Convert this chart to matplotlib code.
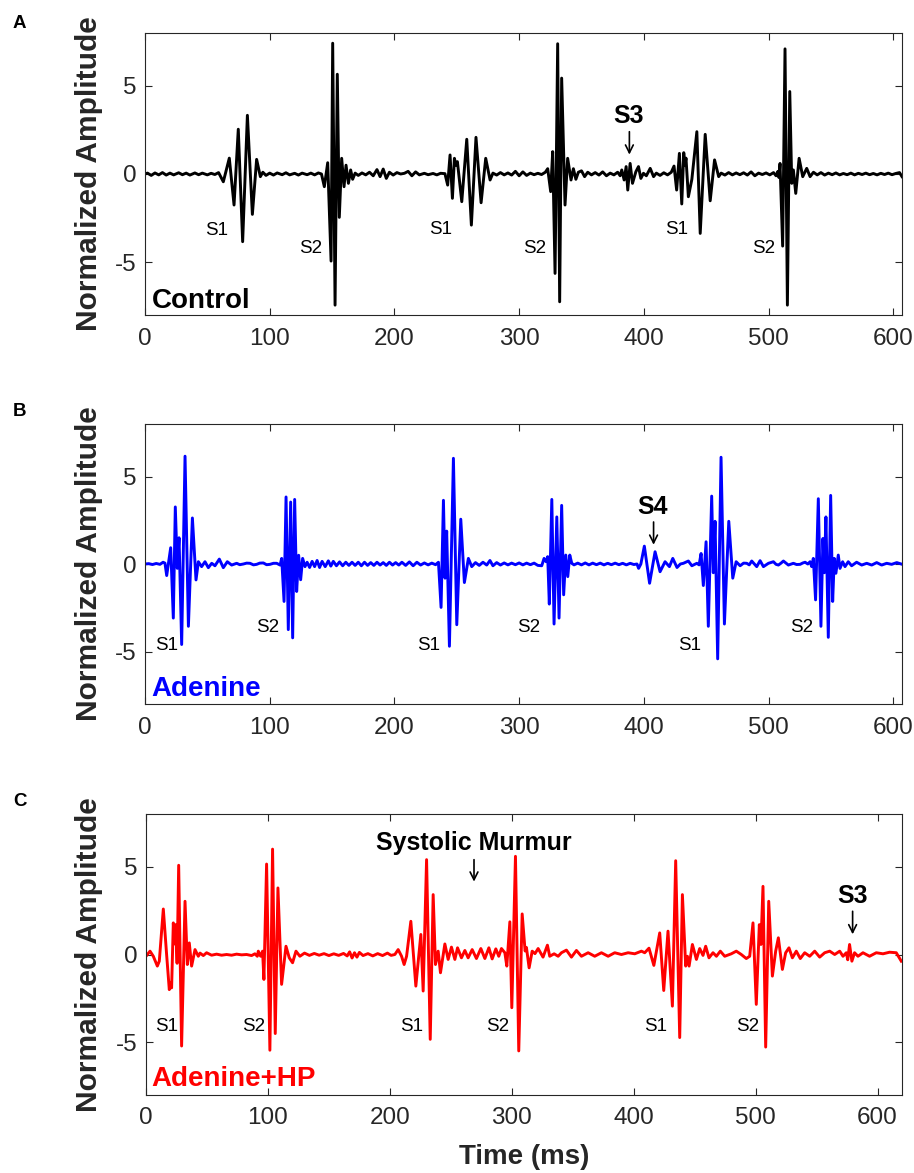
import matplotlib
matplotlib.use("Agg")
import matplotlib.pyplot as plt

plt.rcParams['font.family'] = ['Liberation Sans', 'DejaVu Sans']
plt.rcParams['axes.unicode_minus'] = False

# ---- phonocardiogram traces: (time in ms, normalized amplitude) ----
control_trace = [
    (0, 0.0), (2, 0.05), (5, -0.08), (8, 0.06), (11, -0.05), (14, 0.08), (17, -0.06), (20, 0.05),
    (23, -0.05), (27, 0.07), (30, -0.04), (33, 0.05), (36, -0.06), (40, 0.06), (43, -0.04), (46, 0.05),
    (50, -0.05), (53, 0.04), (56, -0.03), (59, 0.08), (61, -0.2),
    (62.8, -0.44), (67.6, 0.9), (71.4, -1.76), (74.8, 2.54), (78.3, -3.84), (82.1, 3.33), (86.1, -2.29),
    (89.5, 0.83), (92.5, -0.15), (94.5, 0.1), (97, -0.08),
    (100, 0.05), (103, -0.06), (106, 0.06), (110, -0.04), (113, 0.07), (116, -0.05), (120, 0.04),
    (123, -0.06), (126, 0.05), (130, -0.04), (133, 0.05), (136, -0.05), (139, 0.06), (141.5, 0.0),
    (143.8, -0.72), (146.5, 0.64), (149.2, -4.94), (150.5, 7.42), (152.4, -7.44), (154.2, 5.66),
    (155.8, -2.46), (157.7, 0.89), (159.6, -0.72), (161.2, 0.5), (163.1, -0.53), (164.9, 0.23),
    (166.5, -0.3), (168.5, 0.05),
    (171, -0.08), (174, 0.06), (177, -0.05), (180, 0.1), (183, -0.1), (186, 0.25), (188.5, -0.15),
    (191, 0.28), (193.5, -0.25), (196, 0.1), (199, -0.06), (202, 0.08), (205, 0.0), (208, 0.04),
    (211, 0.15), (214, -0.1), (217, 0.12), (220, -0.05), (224, 0.04), (227, -0.04), (231, 0.03),
    (234, -0.05), (237, 0.04), (240.5, 0.02),
    (242.7, -0.63), (244.6, 1.08), (246.5, -1.38), (248.1, 0.89), (249.3, 0.5), (250.5, 0.7),
    (254.0, -1.57), (258.0, 1.97), (261.7, -2.9), (265.4, 2.08), (269.5, -1.63), (273.2, 0.89),
    (276.7, -0.34), (279, 0.05),
    (282, -0.06), (285, 0.08), (288, -0.05), (291, 0.06), (294, -0.06), (297, 0.15), (300, -0.1),
    (303, 0.12), (306, -0.08), (309, 0.05), (312, -0.04), (315, 0.04), (318, -0.03), (321, 0.1),
    (322.9, 0.3), (325.3, -1.0), (326.9, 1.27), (328.8, -5.64), (330.9, 7.39), (332.5, -7.25),
    (334.1, 5.44), (336.8, -1.76), (338.9, 0.89), (341.6, -0.34), (343.5, 0.3), (345.5, -0.3),
    (347.5, 0.1),
    (350, 0.18), (352.5, -0.15), (355, 0.1), (358, -0.05), (361, 0.08), (364, -0.06), (367, 0.12),
    (370, -0.1), (373, 0.05), (376, -0.05), (379, 0.1), (381, -0.1),
    (382.3, 0.23), (384.2, -0.34), (385.8, 0.42), (387.1, -0.91), (389.0, 0.6), (390.9, -0.53),
    (393.6, 0.13), (395.7, 0.42), (397.6, -0.25), (399.7, 0.04), (402, -0.1), (405.1, 0.32),
    (407.8, -0.15), (410, 0.05),
    (413, -0.08), (416, 0.07), (419, -0.05), (422, 0.1),
    (424.2, 0.45), (426.3, -0.91), (428.5, 1.17), (430.4, -1.7), (432.0, 1.21), (432.9, 0.5),
    (433.8, 0.9), (435.7, -1.29), (438.5, -0.3), (442.5, 2.4), (445.2, -3.37), (449.2, 2.25),
    (453.2, -1.52), (456.7, 0.8), (460.0, -0.15), (462, 0.05),
    (465, -0.06), (468, 0.08), (471, -0.05), (474, 0.06), (477, -0.04), (480, 0.07), (483, -0.06),
    (486, 0.12), (489, -0.1), (492, 0.05), (495, -0.03), (498, 0.06), (501, -0.05), (504, 0.08),
    (506, -0.1),
    (507.5, 0.15), (508.3, -0.2), (509.2, 0.6), (511.3, -4.09), (513.2, 7.1), (515.1, -7.44),
    (517.0, 4.68), (518.6, -0.53), (519.9, 0.23), (521.8, -1.1), (524.5, 0.89), (527.4, -0.15),
    (530.6, 0.32), (533.3, -0.15), (536, 0.1),
    (539, -0.05), (542, 0.08), (545, -0.06), (548, 0.05), (551, -0.04), (554, 0.06), (557, -0.05),
    (560, 0.03), (563, -0.04), (566, 0.05), (569, -0.05), (572, 0.04), (575, -0.03), (578, 0.05),
    (581, -0.04), (584, 0.03), (587, -0.05), (590, 0.04), (593, -0.03), (596, 0.05), (599, -0.04),
    (602, 0.03), (605, 0.08), (607, -0.15),
]

adenine_trace = [
    (0, 0.0), (3, 0.02), (6, -0.03), (9, 0.03), (12, -0.02), (14.5, 0.1), (16, 0.05),
    (17.4, -0.66), (20.6, 0.93), (22.7, -3.09), (24.3, 3.26), (25.9, -0.25), (27.3, 1.5),
    (29.4, -4.6), (32.1, 6.16), (34.8, -3.56), (38.0, 2.63), (40.9, -0.91),
    (42.8, 0.13), (45.4, -0.15), (48.1, 0.13), (50.8, -0.21), (53.5, 0.04), (56.1, -0.1),
    (59.6, 0.28), (62.8, -0.21), (66.0, 0.13), (69.5, -0.06), (73.5, 0.04), (76, -0.04),
    (78.9, 0.0), (81.5, 0.05), (84.2, 0.04), (87, -0.05), (89.5, -0.02), (92, 0.05), (94.9, 0.06),
    (97.5, -0.04), (100.2, -0.02), (103, 0.04), (105.6, 0.04), (108.3, -0.06),
    (109.6, 0.32), (111.5, -2.14), (113.1, 3.83), (114.9, -3.75), (116.8, 3.54), (118.4, -4.22),
    (120.0, 3.69), (121.6, -1.57), (123.2, 0.5), (124.8, -0.9), (126.4, 0.32), (128.3, -0.15),
    (130, 0.1),
    (132, -0.2), (134, 0.15), (136, -0.15), (138, 0.2), (140, -0.2), (142, 0.15), (144.5, -0.15),
    (147, 0.18), (149, -0.12), (151, 0.15), (153.5, -0.1), (156, 0.12), (158.5, -0.1), (161, 0.1),
    (163.5, -0.08), (166, 0.1), (168.5, -0.08), (171, 0.1), (173.5, -0.1), (176, 0.1),
    (178.5, -0.08), (181, 0.08), (183.5, -0.08), (186, 0.1), (188.5, -0.06), (191, 0.08),
    (193.5, -0.08), (196, 0.1), (198.5, -0.06), (201, 0.08), (203.5, -0.06), (206, 0.1),
    (209, -0.08), (212, 0.12), (215, -0.1), (218, 0.1), (221, -0.06), (224, 0.06), (227, -0.05),
    (230, 0.05), (233, -0.04), (235.3, 0.1),
    (237.4, -2.48), (239.3, 3.64), (240.6, -0.81), (241.9, 1.88), (244.1, -4.7), (247.3, 6.04),
    (250.0, -3.47), (253.2, 2.56), (256.1, -1.06), (259.3, 0.32), (262.0, -0.15),
    (265, 0.08), (268, -0.08), (271, 0.1), (274, -0.06), (276.6, 0.2), (279, -0.1), (282, 0.08),
    (285, -0.06), (288, 0.06), (291, -0.05), (294, 0.05), (297, -0.04), (300, 0.06), (303, -0.05),
    (306, 0.05), (309, -0.04), (312, 0.05), (315, -0.08), (318.1, -0.1),
    (320.0, 0.32), (321.6, 0.13), (322.9, 0.42), (324.2, -2.29), (326.2, 3.69), (328.0, -3.43),
    (330.2, 2.69), (332.0, -3.09), (334.1, 3.35), (335.7, -1.76), (337.4, 0.51), (339.0, -0.72),
    (340.6, 0.51), (342.2, 0.04), (344, -0.05),
    (347, 0.05), (350, -0.05), (353, 0.06), (356, -0.05), (359, 0.05), (362, -0.04), (365, 0.05),
    (368, -0.05), (371, 0.04), (374, -0.04), (377, 0.05), (380, -0.04), (383, 0.04), (386, -0.05),
    (389, 0.04), (392, -0.03), (394.5, 0.0),
    (395.8, -0.25), (397.6, 0.0), (400.4, 1.02), (404.6, -1.1), (409.0, 0.7), (413.0, -0.44),
    (417.0, 0.13), (420.5, -0.15), (423.2, 0.32), (426.6, -0.2), (429.3, 0.0), (431.7, 0.04),
    (435.7, 0.17), (438.5, -0.1), (442.5, 0.04), (444.3, -0.05),
    (445.9, 0.6), (447.7, -1.23), (449.9, 1.27), (451.7, -3.56), (454.4, 3.88), (455.7, -0.5),
    (457.1, 2.44), (459.2, -5.42), (461.9, 6.1), (464.6, -3.43), (468.1, 2.44), (471.3, -0.81),
    (474.0, 0.13), (477.2, -0.1), (480, 0.05), (482.5, 0.04), (484.5, -0.05), (486.5, 0.17),
    (490.5, -0.15), (493.2, 0.19), (495.9, -0.15), (499.9, 0.04), (503.9, 0.13), (506, -0.02),
    (507.9, -0.06), (510, 0.05), (511.9, 0.17), (515.9, -0.06), (519.9, 0.04), (522.5, -0.03),
    (525.3, -0.02), (527.5, 0.06), (529.3, 0.1), (531.5, 0.0),
    (533.3, 0.13), (534.6, -0.15), (535.9, 0.32), (537.7, -2.05), (539.9, 3.73), (542.0, -3.56),
    (543.6, 1.46), (544.7, -0.5), (546.0, 2.69), (547.9, -4.19), (549.8, 3.92), (551.4, -2.14),
    (552.7, 0.32), (554.0, -0.53), (555.9, 0.51), (557.3, -0.25), (559.4, 0.13), (561.3, -0.15),
    (563.9, 0.13), (566.6, -0.1), (570.6, 0.1), (574.7, -0.06), (578.7, 0.04), (582.7, -0.06),
    (586.7, 0.08), (590.7, -0.06), (594.7, 0.04), (598.7, -0.02), (602.8, 0.08), (607.3, -0.02),
]

adenine_hp_trace = [
    (0, -0.1), (3.3, 0.19), (6.0, -0.1), (9.3, -0.66), (10.9, -0.38), (14.2, 2.59), (16.9, 0.0),
    (19.1, -2.0), (20.2, -1.6), (21.0, -1.9), (22.4, 1.8), (23.3, 0.6), (24.3, 1.7), (25.5, -0.5),
    (26.8, 5.08), (29.2, -5.21), (32.0, 3.03), (33.9, -0.57), (35.5, 0.66), (37.4, -0.66),
    (40.2, 0.28), (42.9, -0.1), (44.3, 0.08), (47.0, -0.06), (49.7, 0.1), (53.8, -0.04),
    (57.9, 0.02), (62.0, -0.04), (66.1, 0.0), (70.2, -0.04), (74.3, 0.02), (78.4, -0.02),
    (82.5, 0.0), (86.6, -0.06), (89.3, 0.04), (91.3, -0.1),
    (92.1, 0.19), (94.0, -0.1), (95.6, 0.19), (96.7, -1.42), (98.9, 5.15), (101.6, -5.45),
    (103.8, 6.0), (106.0, -4.5), (108.2, 3.79), (111.2, -1.7), (114.8, 0.47), (117.5, -0.19),
    (120.2, -0.47), (123.0, 0.19), (126.2, -0.1),
    (130, 0.08), (134, -0.05), (138, 0.06), (142, -0.04), (146, 0.05), (150, -0.06), (154, 0.04),
    (158, -0.05), (162, 0.06), (165, -0.08), (167, 0.15), (169, -0.2), (171, 0.1), (173, -0.15),
    (175, 0.12), (178, -0.06), (182, 0.05), (186, -0.08), (190, 0.05), (194, -0.06), (198, 0.08),
    (201, -0.05), (204.1, 0.0), (206.8, 0.28), (209.6, -0.1), (211.7, -0.57), (213.7, -0.1),
    (217.2, 1.89), (221.3, -1.8), (225.4, 1.14), (227.3, -2.08), (230.1, 5.4), (233.1, -4.83),
    (235.5, 3.41), (237.4, -0.57), (239.6, 0.19), (241.5, -1.04),
    (245.1, 0.6), (247.8, -0.28), (250.5, 0.42), (253.3, -0.28), (255.5, 0.38), (258.7, -0.19),
    (261.5, 0.23), (264.2, -0.19), (267.5, 0.28), (271.0, -0.23), (274.6, 0.34), (277.9, -0.23),
    (281.2, 0.38), (283.9, -0.25), (286.9, 0.32), (289.3, -0.1), (291.5, 0.34), (294.3, 0.1),
    (295.9, -0.66), (298.4, 1.86), (300.0, -3.03), (303.0, 5.59), (305.7, -5.49), (308.5, 2.31),
    (310.9, 0.2), (312.0, 0.4), (314.2, -0.76), (316.7, 0.19), (319.0, 0.05), (321.6, 0.34),
    (325.6, -0.15), (329.2, 0.53), (331.1, -0.1), (334.7, 0.04), (338.0, -0.1), (340.7, 0.1),
    (344.8, 0.25), (348.9, -0.15), (353.0, 0.23), (357.1, -0.1), (362.6, 0.1), (368.0, -0.1),
    (373.5, 0.1), (379.0, -0.1), (384.4, 0.1), (389.9, 0.0), (395.4, 0.1), (400.8, 0.04),
    (406.3, 0.19), (409, 0.1), (412.5, 0.36), (416.5, -0.62),
    (421.3, 1.23), (424.6, -2.05), (428.1, 1.33), (431.7, -2.94), (434.4, 5.34), (437.7, -4.73),
    (439.9, 3.41), (442.6, -0.66), (444.0, -0.1), (445.4, -0.66), (448.1, 0.57), (451.4, -0.28),
    (454.1, 0.34), (456.8, -0.05), (459.0, 0.47), (461.7, -0.19), (465.0, 0.1), (467.8, -0.1),
    (471.0, 0.19), (474.6, -0.1), (480.0, 0.04), (484.1, 0.19), (488.2, 0.0), (492.3, -0.23),
    (495.1, -0.1),
    (497.8, 1.8), (500.5, -2.84), (503.0, 1.7), (504.3, 0.57), (506.0, 3.88), (508.2, -5.27),
    (510.7, 3.03), (513.7, -1.23), (516.4, 0.19), (518.6, 0.95), (521.9, -0.85), (524.6, 0.1),
    (527.3, 0.38), (530.1, -0.19), (533.3, 0.19), (536.6, -0.23), (540.2, 0.1), (544.3, -0.1),
    (548.4, 0.19), (552.5, -0.15), (556.6, 0.1), (560.7, 0.19), (564.8, 0.0), (568.9, 0.19),
    (571.6, -0.1), (574.3, 0.1), (575.5, -0.3), (577.0, 0.57), (578.9, -0.38), (581.1, 0.1),
    (583.9, -0.1), (588.0, 0.1), (593.4, -0.1), (598.9, 0.1), (604.4, 0.04), (609.8, 0.13),
    (615.3, 0.1), (619.4, -0.38),
]

# heart-sound labels: (text, time, amplitude at baseline of text)
control_sounds = [("S1", 57.2, -3.47), ("S2", 132.9, -4.47), ("S1", 237.4, -3.41),
                  ("S2", 312.7, -4.47), ("S1", 426.6, -3.41), ("S2", 496.4, -4.47)]
adenine_sounds = [("S1", 17.6, -4.9), ("S2", 98.1, -3.9), ("S1", 227.2, -4.9),
                  ("S2", 307.4, -3.9), ("S1", 436.5, -4.9), ("S2", 526.9, -3.9)]
adenine_hp_sounds = [("S1", 17.2, -4.36), ("S2", 88.0, -4.36), ("S1", 217.5, -4.36),
                     ("S2", 288.8, -4.36), ("S1", 417.6, -4.36), ("S2", 493.7, -4.36)]

# highlighted events: (text, text time, text baseline, arrow time, arrow top, arrow tip)
control_events = [("S3", 387.6, 2.92, 388.4, 2.4, 1.1)]
adenine_events = [("S4", 407.0, 2.88, 407.8, 2.4, 1.1)]
adenine_hp_events = [("Systolic Murmur", 269.0, 5.93, 269.0, 5.4, 4.15),
                     ("S3", 579.8, 2.92, 579.5, 2.46, 1.15)]

x_ticks = [0, 100, 200, 300, 400, 500, 600]
y_ticks = [-5, 0, 5]

W, H = 914, 1173
fig = plt.figure(figsize=(W / 100, H / 100), dpi=100)


def axes_px(left, top, right, bottom):
    return fig.add_axes([left / W, 1 - bottom / H, (right - left) / W, (bottom - top) / H])


panels = [
    dict(rect=(145, 33, 902, 315), xmax=607, trace=control_trace, color="#000000",
         name="Control", name_x=5.4, name_y=-7.63, sounds=control_sounds,
         events=control_events, letter="A", letter_y=28),
    dict(rect=(145, 424, 902, 704), xmax=607, trace=adenine_trace, color="#0000FF",
         name="Adenine", name_x=5.4, name_y=-7.54, sounds=adenine_sounds,
         events=adenine_events, letter="B", letter_y=416),
    dict(rect=(146, 814, 902, 1095), xmax=620, trace=adenine_hp_trace, color="#FF0000",
         name="Adenine+HP", name_x=4.7, name_y=-7.48, sounds=adenine_hp_sounds,
         events=adenine_hp_events, letter="C", letter_y=806),
]

axis_color = "#262626"

for p in panels:
    ax = axes_px(*p["rect"])
    t = [pt[0] for pt in p["trace"]]
    a = [pt[1] for pt in p["trace"]]
    ax.plot(t, a, color=p["color"], lw=2.1, solid_joinstyle="round")
    ax.set_xlim(0, p["xmax"])
    ax.set_ylim(-8, 8)
    ax.set_xticks(x_ticks)
    ax.set_yticks(y_ticks)
    ax.tick_params(direction="in", length=5, width=0.8, top=True, right=True,
                   labelsize=17.5, labelcolor=axis_color, color=axis_color)
    ax.tick_params(axis="x", pad=9)
    ax.tick_params(axis="y", pad=6)
    for s in ax.spines.values():
        s.set_color(axis_color)
        s.set_linewidth(0.8)

    for txt, x, y in p["sounds"]:
        ax.text(x, y, txt, ha="center", va="baseline", fontsize=13.5, color="black")

    for txt, tx, ty, axx, ytop, ytip in p["events"]:
        ax.text(tx, ty, txt, ha="center", va="baseline", fontsize=18,
                fontweight="bold", color="black")
        ax.annotate("", xy=(axx, ytip), xytext=(axx, ytop),
                    arrowprops=dict(arrowstyle="->", lw=1.2, color="black",
                                    shrinkA=0, shrinkB=0, mutation_scale=14))

    ax.text(p["name_x"], p["name_y"], p["name"], ha="left", va="baseline",
            fontsize=20, fontweight="bold", color=p["color"])

    top = p["rect"][1]
    bottom = p["rect"][3]
    fig.text(89 / W, 1 - ((top + bottom) / 2) / H, "Normalized Amplitude",
             rotation=90, ha="center", va="center", fontsize=21.5,
             fontweight="bold", color=axis_color)
    fig.text(13 / W, 1 - p["letter_y"] / H, p["letter"], ha="left", va="baseline",
             fontsize=13.5, fontweight="bold", color="black")

fig.text(524 / W, 1 - 1164 / H, "Time (ms)", ha="center", va="baseline",
         fontsize=20, fontweight="bold", color=axis_color)

fig.savefig("out.png", dpi=100)
